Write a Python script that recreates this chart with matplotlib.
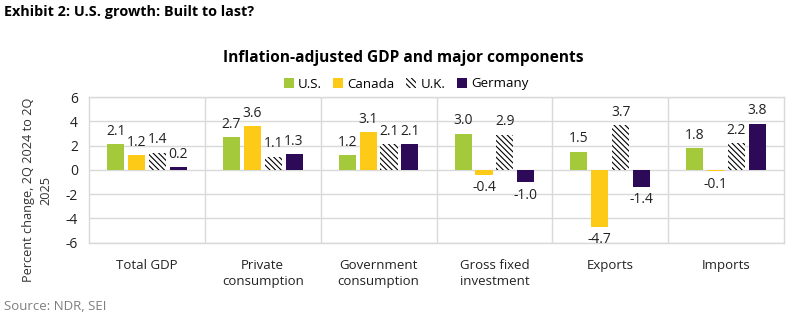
import matplotlib
matplotlib.use("Agg")
import matplotlib.pyplot as plt
import numpy as np
from matplotlib.patches import Patch

plt.rcParams['font.family'] = ['Open Sans', 'DejaVu Sans']
plt.rcParams['hatch.linewidth'] = 0.8

categories = ["Total GDP", "Private\nconsumption", "Government\nconsumption",
              "Gross fixed\ninvestment", "Exports", "Imports"]
series_names = ["U.S.", "Canada", "U.K.", "Germany"]
us = [2.1, 2.7, 1.2, 3.0, 1.5, 1.8]
canada = [1.2, 3.6, 3.1, -0.4, -4.7, -0.1]
uk = [1.4, 1.1, 2.1, 2.9, 3.7, 2.2]
germany = [0.2, 1.3, 2.1, -1.0, -1.4, 3.8]
yticks = [-6, -4, -2, 0, 2, 4, 6]

colors = ["#A4C93B", "#FDCA17", "white", "#2D0A57"]
hatches = [None, None, "\\\\\\\\\\\\", None]

fig = plt.figure(figsize=(7.91, 3.23), dpi=100)
ax = fig.add_axes([89/791, 1 - 242.5/323, (784-89)/791, (242.5-97.3)/323])

x = np.arange(len(categories))
w = 0.147
step = 0.18
offsets = [-1.5*step, -0.5*step, 0.5*step, 1.5*step]
for i, vals in enumerate([us, canada, uk, germany]):
    ax.bar(x + offsets[i], vals, width=w, color=colors[i],
           hatch=hatches[i], edgecolor="black" if hatches[i] else colors[i],
           linewidth=0, zorder=3, label=series_names[i])
    for xi, v in zip(x + offsets[i], vals):
        if v >= 0:
            ax.annotate(f"{v:.1f}", (xi, v), xytext=(0, 4), textcoords="offset points",
                        ha="center", va="bottom", fontsize=10, color="#222222")
        else:
            ax.annotate(f"{v:.1f}", (xi, v), xytext=(0, -4), textcoords="offset points",
                        ha="center", va="top", fontsize=10, color="#222222")

ax.set_xlim(-0.5, len(categories) - 0.5)
ax.set_ylim(-6, 6)
ax.set_yticks(yticks)
ax.set_yticklabels([str(t) for t in yticks], fontsize=10)
ax.set_xticks(x)
ax.set_xticklabels(categories, fontsize=9.5, va="top", linespacing=1.25)
ax.tick_params(axis="both", length=0, pad=8, colors="#222222")
ax.tick_params(axis="x", pad=12)
ax.yaxis.grid(True, color="#D9D9D9", linewidth=1, zorder=0)
for b in np.arange(0.5, len(categories) - 0.5, 1.0):
    ax.axvline(b, color="#D9D9D9", linewidth=1, zorder=0)
for s in ax.spines.values():
    s.set_color("#D9D9D9")
    s.set_linewidth(1)

ax.set_ylabel("Percent change, 2Q 2024 to 2Q\n2025", fontsize=9.2, color="#333333",
              linespacing=1.5)
ax.yaxis.set_label_coords(-0.052, 0.36)

fig.text(4/791, 1 - 12/323, "Exhibit 2: U.S. growth: Built to last?", fontsize=10.4,
         fontweight="bold", va="center", ha="left", color="black")
fig.text(403/791, 1 - 58/323, "Inflation-adjusted GDP and major components", fontsize=11.2,
         fontweight="bold", va="center", ha="center", color="black")
fig.text(4/791, 1 - 307/323, "Source: NDR, SEI", fontsize=9.5, va="center", ha="left",
         color="#7F7F7F")

handles = [Patch(facecolor=colors[i], edgecolor="black" if hatches[i] else colors[i],
                 hatch=hatches[i], linewidth=0, label=series_names[i]) for i in range(4)]
fig.legend(handles=handles, loc="center", bbox_to_anchor=(406/791, 1 - 84/323), ncol=4,
           frameon=False, fontsize=9.5, handlelength=0.75, handleheight=0.75,
           handletextpad=0.3, columnspacing=0.9, borderpad=0)

fig.savefig("out.png", dpi=100)
